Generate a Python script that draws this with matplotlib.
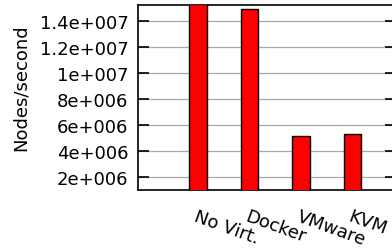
import matplotlib
matplotlib.use("Agg")
import matplotlib.pyplot as plt

# values
platforms = ["No Virt.", "Docker", "VMware", "KVM"]
nodes_per_sec = [1.53e7, 1.495e7, 5.13e6, 5.33e6]

ytick_values = [2e6, 4e6, 6e6, 8e6, 1e7, 1.2e7, 1.4e7]
ytick_labels = ["2e+006", "4e+006", "6e+006", "8e+006", "1e+007", "1.2e+007", "1.4e+007"]

fig = plt.figure(figsize=(3.92, 2.53), dpi=100)
# axes run slightly past the right edge of the picture, as in the original
ax = fig.add_axes([0.352, 0.245, 0.658, 0.731])

x = range(len(platforms))
ax.bar(x, nodes_per_sec, width=0.34, color="#ff0000", edgecolor="black",
       linewidth=1.0, zorder=3)

ax.set_xlim(-1.165, 3.845)
ax.set_ylim(1e6, 1.525e7)

ax.set_yticks(ytick_values)
ax.set_yticklabels(ytick_labels, fontsize=13)
ax.tick_params(axis="y", direction="in", length=8, width=1.2, left=True, right=True,
               pad=7, color="black")
ax.yaxis.grid(True, color="#a8a8a8", linewidth=0.9, zorder=0)
ax.set_axisbelow(True)

ax.set_xticks(list(x))
ax.set_xticklabels(platforms, fontsize=13, rotation=-20, ha="left", va="top",
                   rotation_mode="anchor")
ax.tick_params(axis="x", length=0, pad=12)

ax.set_ylabel("Nodes/second", fontsize=13)
# label sits a bit above the axes centre in the original
ax.yaxis.set_label_coords(-0.418, 0.557)

for s in ax.spines.values():
    s.set_linewidth(1.2)
    s.set_color("black")

fig.savefig("out.png", dpi=100)
